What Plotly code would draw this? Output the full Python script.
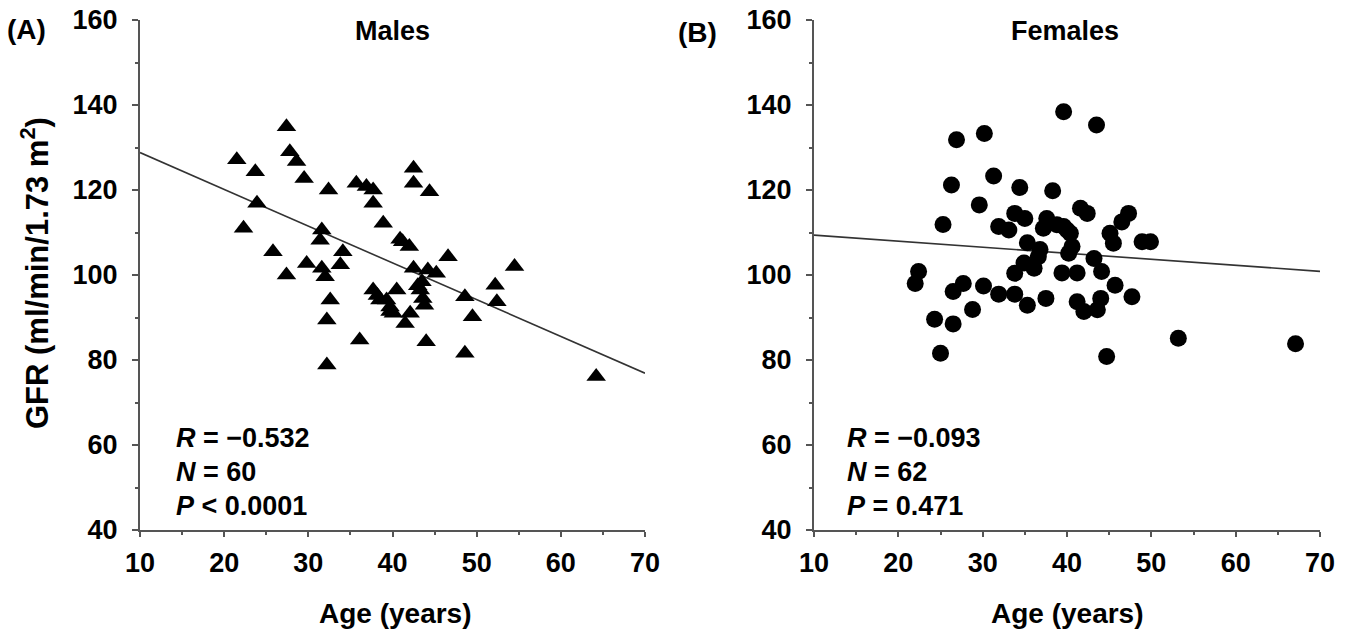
import plotly.graph_objects as go

# Males data (age, GFR)
male_age = [27.4, 27.8, 28.6, 21.5, 23.7, 29.5, 32.4, 35.7, 36.9, 37.7,
            37.7, 38.9, 40.9, 23.9, 22.3, 31.6, 31.4, 34.1, 33.8, 25.8,
            29.8, 31.6, 32.0, 27.4, 32.6, 32.2, 36.1, 32.2, 37.7, 38.5,
            39.7, 40.1, 42.5, 42.5, 44.4, 42.0, 46.6, 42.5, 44.2, 45.2,
            43.5, 43.3, 43.6, 43.8, 40.5, 39.3, 39.7, 42.1, 41.5, 54.5,
            52.2, 52.4, 48.6, 49.5, 44.0, 48.6, 64.2, 41.2, 43.0, 38.2]
male_gfr = [134.9, 129.0, 126.7, 127.1, 124.3, 122.7, 120.0, 121.6, 120.8, 120.0,
            116.9, 112.2, 108.4, 116.9, 111.0, 110.6, 108.2, 105.5, 102.4, 105.5,
            102.7, 101.6, 99.6, 100.0, 94.1, 89.4, 84.7, 78.8, 96.5, 94.1,
            92.5, 91.0, 125.1, 121.6, 119.6, 106.7, 104.3, 101.6, 101.2, 100.4,
            98.4, 96.5, 94.5, 92.9, 96.5, 94.1, 91.4, 91.0, 88.6, 102.0,
            97.6, 93.7, 94.9, 90.2, 84.3, 81.6, 76.1, 107.8, 97.5, 95.2]

# Females data (age, GFR)
female_age = [39.6, 26.9, 30.2, 26.3, 31.3, 34.4, 38.3, 29.6, 25.3, 33.8,
              35.0, 31.9, 33.1, 37.6, 37.2, 38.8, 40.0, 35.3, 36.6, 34.9,
              36.1, 33.8, 39.4, 22.4, 22.0, 27.7, 26.5, 30.1, 31.9, 33.8,
              35.3, 37.5, 28.8, 24.3, 26.5, 25.0, 43.5, 41.6, 42.4, 39.6,
              40.4, 47.3, 46.5, 45.1, 45.5, 48.9, 49.9, 40.6, 40.2, 43.2,
              41.2, 44.1, 45.7, 47.7, 41.2, 42.0, 43.6, 44.0, 53.2, 67.1,
              44.7, 36.8]
female_gfr = [138.4, 131.8, 133.3, 121.2, 123.3, 120.6, 119.8, 116.5, 111.9, 114.5,
              113.3, 111.4, 110.6, 113.3, 111.0, 111.8, 110.6, 107.6, 104.3, 102.8,
              101.6, 100.4, 100.5, 100.8, 98.0, 98.0, 96.1, 97.4, 95.5, 95.5,
              92.9, 94.5, 91.9, 89.6, 88.5, 81.6, 135.3, 115.7, 114.5, 111.4,
              109.8, 114.5, 112.5, 109.8, 107.5, 107.8, 107.8, 106.7, 105.1, 103.9,
              100.5, 100.8, 97.6, 94.9, 93.7, 91.4, 91.8, 94.5, 85.1, 83.8,
              80.8, 106.0]

# Regression lines (intercept, slope)
male_fit = (137.45, -0.865)
female_fit = (110.8, -0.142)
fit_x = [10, 70]

x_ticks = [10, 20, 30, 40, 50, 60, 70]
y_ticks = [40, 60, 80, 100, 120, 140, 160]

FONT = "Liberation Sans"
AX = "#555555"

fig = go.Figure()

fig.add_trace(go.Scatter(x=fit_x, y=[male_fit[0] + male_fit[1] * v for v in fit_x],
                         mode="lines", line=dict(color="#333333", width=1.6),
                         xaxis="x", yaxis="y", showlegend=False))
fig.add_trace(go.Scatter(x=male_age, y=male_gfr, mode="markers",
                         marker=dict(symbol="triangle-up", size=17, color="black"),
                         xaxis="x", yaxis="y", showlegend=False))
fig.add_trace(go.Scatter(x=fit_x, y=[female_fit[0] + female_fit[1] * v for v in fit_x],
                         mode="lines", line=dict(color="#333333", width=1.6),
                         xaxis="x2", yaxis="y2", showlegend=False))
fig.add_trace(go.Scatter(x=female_age, y=female_gfr, mode="markers",
                         marker=dict(symbol="circle", size=17, color="black"),
                         xaxis="x2", yaxis="y2", showlegend=False))

def xax(domain, anchor):
    return dict(domain=domain, anchor=anchor, range=[10, 70], tickvals=x_ticks,
                ticktext=[str(v) for v in x_ticks], automargin=False,
                showline=True, linecolor=AX, linewidth=2, showgrid=False, zeroline=False,
                ticks="outside", ticklen=5, tickwidth=2, tickcolor=AX,
                minor=dict(dtick=5, tick0=0, ticks="outside", ticklen=3, tickwidth=1.5, tickcolor=AX),
                ticklabelstandoff=3,
                tickfont=dict(family=FONT, size=27, color="black", weight="bold"),
                fixedrange=True)

def yax(domain, anchor):
    return dict(domain=domain, anchor=anchor, range=[40, 160], tickvals=y_ticks,
                ticktext=[str(v) for v in y_ticks], automargin=False,
                showline=True, linecolor=AX, linewidth=2, showgrid=False, zeroline=False,
                ticks="outside", ticklen=6, tickwidth=2, tickcolor=AX,
                minor=dict(dtick=10, tick0=0, ticks="outside", ticklen=3, tickwidth=1.5, tickcolor=AX),
                ticklabelstandoff=9,
                tickfont=dict(family=FONT, size=27, color="black", weight="bold"),
                fixedrange=True)

ydom = [1 - 530 / 641, 1 - 20 / 641]
fig.update_layout(
    width=1355, height=641, autosize=False,
    margin=dict(l=0, r=0, t=0, b=0, pad=0),
    plot_bgcolor="white", paper_bgcolor="white",
    xaxis=xax([140 / 1355, 645 / 1355], "y"),
    yaxis=yax(ydom, "x"),
    xaxis2=xax([814 / 1355, 1320 / 1355], "y2"),
    yaxis2=yax(ydom, "x2"),
)

def ann(x, y, text, size=22, xanchor="left", textangle=0):
    fig.add_annotation(x=x / 1355, y=1 - y / 641, xref="paper", yref="paper",
                       text=text, showarrow=False, xanchor=xanchor, yanchor="middle",
                       textangle=textangle, borderpad=0,
                       font=dict(family=FONT, size=size, color="black"))

ann(6, 30, "<b>(A)</b>", 28)
ann(677, 33, "<b>(B)</b>", 28)
ann(392, 31, "<b>Males</b>", 27, "center")
ann(1065, 31, "<b>Females</b>", 27, "center")
ann(395, 613, "<b>Age (years)</b>", 28, "center")
ann(1067, 613, "<b>Age (years)</b>", 28, "center")
ann(35, 273, "<b>GFR (ml/min/1.73 m<sup>2</sup>)</b>", 31, "center", -90)

ann(175, 438, "<b><i>R</i> = \u22120.532</b>", 27)
ann(175, 472, "<b><i>N</i> = 60</b>", 27)
ann(175, 506, "<b><i>P</i> < 0.0001</b>", 27)
ann(846, 438, "<b><i>R</i> = \u22120.093</b>", 27)
ann(846, 472, "<b><i>N</i> = 62</b>", 27)
ann(846, 506, "<b><i>P</i> = 0.471</b>", 27)

fig.write_html("out.html")
